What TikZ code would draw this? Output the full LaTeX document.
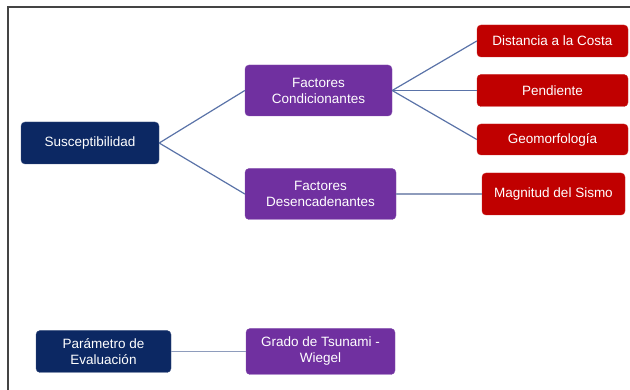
\documentclass[tikz,border=0pt]{standalone}
\usepackage{fontspec}
\setmainfont{Liberation Sans}
\definecolor{navy}{HTML}{0C2863}
\definecolor{purp}{HTML}{7030A0}
\definecolor{dred}{HTML}{C00000}
\definecolor{conn}{HTML}{5A73A8}
\definecolor{connlight}{HTML}{8E9CBC}
\definecolor{frame}{HTML}{444444}
\begin{document}
\begin{tikzpicture}[x=1pt,y=-1pt,
  box/.style={rounded corners=4pt, inner sep=0pt, align=center, text=white,
    font=\fontsize{13.5}{16}\selectfont},
  navybox/.style={box, fill=navy, draw=navy!80!white},
  purpbox/.style={box, fill=purp, draw=purp!85!white},
  redbox/.style={box, fill=dred, draw=dred!85!white},
  link/.style={draw=conn, line width=1.2pt},
  lightlink/.style={draw=connlight, line width=1.4pt}]
\useasboundingbox (0,0) rectangle (630,390);
\draw[frame, line width=1.3pt] (8,390) -- (8,7) -- (630,7);
\node[navybox, minimum width=138pt, minimum height=42pt] (sus) at (90,143) {Susceptibilidad};
\node[purpbox, minimum width=147pt, minimum height=51pt] (fc) at (318.5,90.5) {Factores\\Condicionantes};
\node[purpbox, minimum width=151pt, minimum height=51pt] (fd) at (320.5,194) {Factores\\Desencadenantes};
\node[redbox, minimum width=151pt, minimum height=32pt] (dc) at (552.5,41) {Distancia a la Costa};
\node[redbox, minimum width=151pt, minimum height=32pt] (pe) at (552.5,90.5) {Pendiente};
\node[redbox, minimum width=151pt, minimum height=31pt] (ge) at (552.5,139.5) {Geomorfología};
\node[redbox, minimum width=143pt, minimum height=42pt] (ms) at (553.5,194) {Magnitud del Sismo};
\node[navybox, minimum width=135pt, minimum height=42pt] (pa) at (103.5,351.5) {Parámetro de\\Evaluación};
\node[purpbox, minimum width=149pt, minimum height=46pt] (gt) at (320.5,351.5) {Grado de Tsunami -\\Wiegel};
\draw[link] (sus.east) -- (fc.west);
\draw[link] (sus.east) -- (fd.west);
\draw[link] (fc.east) -- (dc.west);
\draw[link] (fc.east) -- (pe.west);
\draw[link] (fc.east) -- (ge.west);
\draw[lightlink] (fd.east) -- (ms.west);
\draw[lightlink] (pa.east) -- (gt.west);
\end{tikzpicture}
\end{document}
